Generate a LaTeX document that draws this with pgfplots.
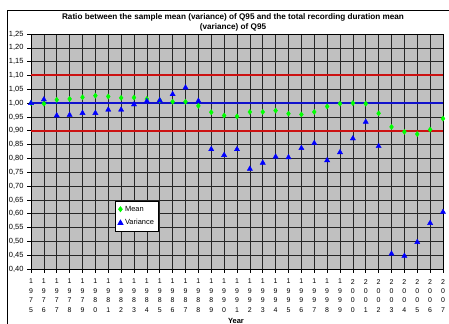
\documentclass[border=0pt]{standalone}
\usepackage{pgfplots}
\pgfplotsset{compat=1.18}
\usepackage{fontspec}
\setmainfont{Liberation Sans}
\definecolor{bggray}{RGB}{192,192,192}
\definecolor{redline}{RGB}{204,17,17}
\definecolor{blueline}{RGB}{17,17,204}
\definecolor{mgreen}{RGB}{0,255,0}
\definecolor{vblue}{RGB}{0,0,255}
\pgfplotstableread{
year mean variance
1975 1.000 1.000
1976 0.998 1.013
1977 1.012 0.955
1978 1.015 0.957
1979 1.021 0.964
1980 1.027 0.964
1981 1.024 0.976
1982 1.019 0.976
1983 1.020 0.995
1984 1.015 1.007
1985 1.010 1.010
1986 1.005 1.032
1987 1.005 1.056
1988 0.990 1.008
1989 0.967 0.833
1990 0.955 0.812
1991 0.952 0.833
1992 0.968 0.762
1993 0.968 0.784
1994 0.973 0.806
1995 0.962 0.804
1996 0.959 0.837
1997 0.968 0.855
1998 0.988 0.793
1999 0.998 0.822
2000 1.000 0.872
2001 0.998 0.932
2002 0.963 0.844
2003 0.914 0.455
2004 0.896 0.447
2005 0.888 0.497
2006 0.904 0.566
2007 0.944 0.606
}\datatable
\begin{document}
\begin{tikzpicture}[x=1bp,y=1bp]
\begin{axis}[at={(31bp,55bp)}, anchor=south west, scale only axis,
  set layers=standard,
  width=412bp, height=235bp,
  xmin=1975, xmax=2007, ymin=0.40, ymax=1.25,
  xtick={1975,...,2007},
  xticklabels={{1\\9\\7\\5},{1\\9\\7\\6},{1\\9\\7\\7},{1\\9\\7\\8},{1\\9\\7\\9},{1\\9\\8\\0},{1\\9\\8\\1},{1\\9\\8\\2},{1\\9\\8\\3},{1\\9\\8\\4},{1\\9\\8\\5},{1\\9\\8\\6},{1\\9\\8\\7},{1\\9\\8\\8},{1\\9\\8\\9},{1\\9\\9\\0},{1\\9\\9\\1},{1\\9\\9\\2},{1\\9\\9\\3},{1\\9\\9\\4},{1\\9\\9\\5},{1\\9\\9\\6},{1\\9\\9\\7},{1\\9\\9\\8},{1\\9\\9\\9},{2\\0\\0\\0},{2\\0\\0\\1},{2\\0\\0\\2},{2\\0\\0\\3},{2\\0\\0\\4},{2\\0\\0\\5},{2\\0\\0\\6},{2\\0\\0\\7}},
  xticklabel style={align=center, font=\fontsize{7}{9.4}\selectfont, inner sep=1bp, yshift=-5bp},
  ytick={0.40,0.45,0.50,0.55,0.60,0.65,0.70,0.75,0.80,0.85,0.90,0.95,1.00,1.05,1.10,1.15,1.20,1.25},
  yticklabel style={font=\fontsize{7.5}{8}\selectfont, /pgf/number format/.cd, fixed, fixed zerofill, precision=2, use comma, assume math mode=true},
  tick align=outside, major tick length=4bp,
  tick style={black, line width=0.6bp},
  xtick pos=bottom, ytick pos=left,
  grid=major,
  major grid style={black!85, line width=0.6bp},
  axis background/.style={fill=bggray},
  axis line style={black, line width=0.6bp},
  legend cell align=left,
  legend style={at={(0.204,0.289)}, anchor=north west, draw=black, fill=white,
    font=\fontsize{7.5}{8.5}\selectfont, line width=0.6bp, row sep=3bp, inner sep=2.5bp},
]
\addplot[draw=blueline, line width=1.3bp, mark=none, forget plot] coordinates {(1975,1.0) (2007,1.0)};
\addplot[draw=redline, line width=2bp, mark=none, forget plot] coordinates {(1975,1.1) (2007,1.1)};
\addplot[draw=redline, line width=2bp, mark=none, forget plot] coordinates {(1975,0.9) (2007,0.9)};
\addplot[only marks, mark=diamond*, mark size=2.6bp, mark options={fill=mgreen, draw=mgreen}] table[x=year, y=mean] {\datatable};
\addlegendentry{Mean}
\addplot[only marks, mark=triangle*, mark size=3bp, mark options={fill=vblue, draw=vblue}] table[x=year, y=variance] {\datatable};
\addlegendentry{Variance}
\end{axis}
\node[font=\bfseries\fontsize{8.2}{10}\selectfont, align=center] at (233bp,302bp) {Ratio between the sample mean (variance) of Q95 and the total recording duration mean\\(variance) of Q95};
\node[font=\bfseries\fontsize{7.5}{9}\selectfont, anchor=south, inner sep=0pt] at (236bp,0.3bp) {Year};
\draw[black, line width=0.8bp] (7bp,0bp) -- (7bp,314bp) -- (449bp,314bp);
\pgfresetboundingbox
\path[use as bounding box] (0bp,0bp) rectangle (449bp,324bp);
\end{tikzpicture}
\end{document}
